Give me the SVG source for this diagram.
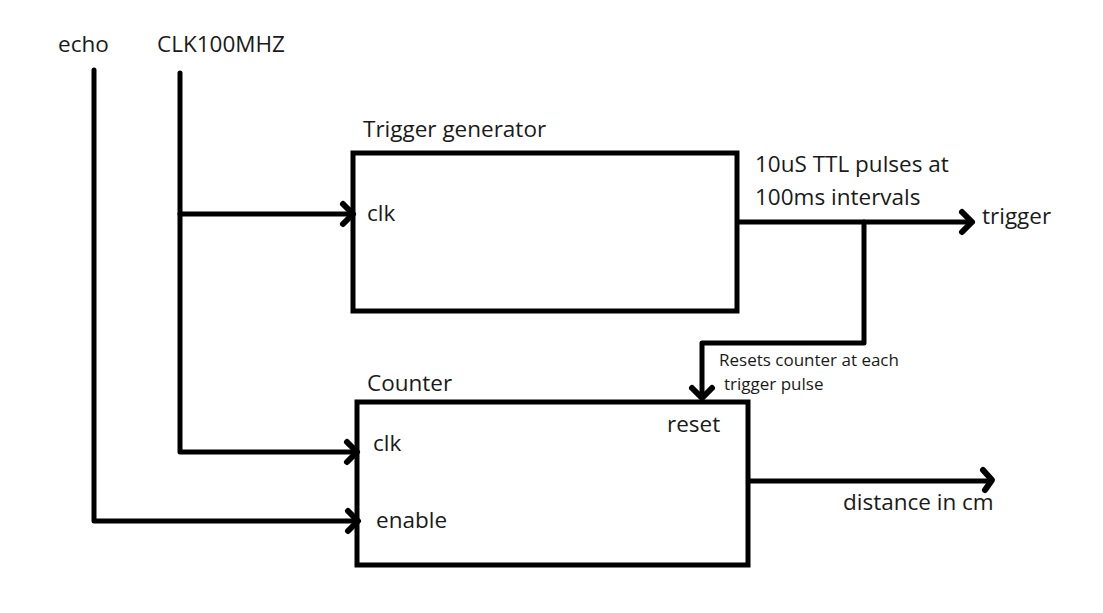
<svg xmlns="http://www.w3.org/2000/svg" width="1103" height="613" viewBox="0 0 1103 613">
<defs>
<style>
.t{font-family:"Open Sans","Liberation Sans",sans-serif;font-size:22.5px;fill:#1a1a1a}
.s{font-family:"Open Sans","Liberation Sans",sans-serif;font-size:17px;fill:#1a1a1a}
.box{fill:#fff;stroke:#000;stroke-width:5}
.w{fill:none;stroke:#000;stroke-width:5;stroke-linejoin:round;stroke-linecap:round}
.ah{fill:none;stroke:#000;stroke-width:6;stroke-linecap:round;stroke-linejoin:round}
</style>
</defs>
<rect width="1103" height="613" fill="#fff"/>
<g id="inputs">
<text class="t" x="58" y="52">echo</text>
<text class="t" x="157" y="52">CLK100MHZ</text>
</g>
<g id="trigger-generator">
<rect class="box" x="353" y="153" width="384" height="158"/>
<text class="t" x="363" y="137">Trigger generator</text>
<text class="t" x="367" y="221">clk</text>
</g>
<g id="counter">
<rect class="box" x="357" y="402" width="391" height="163"/>
<text class="t" x="367" y="391">Counter</text>
<text class="t" x="373" y="451">clk</text>
<text class="t" x="376" y="528">enable</text>
<text class="t" x="667" y="432">reset</text>
</g>
<g id="connectors">
<path class="w" d="M94 70 V521 H356"/>
<path class="w" d="M180 73 V452 H355"/>
<path class="w" d="M180 214 H352"/>
<path class="w" d="M739 222 H972"/>
<path class="w" d="M864 222 V343 H702 V396"/>
<path class="w" d="M750 481 H990"/>
<path class="ah" d="M343 204 L353 214 L343 224"/>
<path class="ah" d="M347 442 L357 452 L347 462"/>
<path class="ah" d="M348 511 L358 521 L348 531"/>
<path class="ah" d="M962 212 L972 222 L962 232"/>
<path class="ah" d="M983 470 L992 480 L985 490"/>
<path class="ah" d="M692 388 L702 398 L712 388"/>
<text class="t" x="755" y="172">10uS TTL pulses at</text>
<text class="t" x="755" y="205">100ms intervals</text>
<text class="t" x="982" y="224">trigger</text>
<text class="s" x="719" y="366">Resets counter at each</text>
<text class="s" x="724" y="390">trigger pulse</text>
<text class="t" x="843" y="510">distance in cm</text>
</g>
</svg>
